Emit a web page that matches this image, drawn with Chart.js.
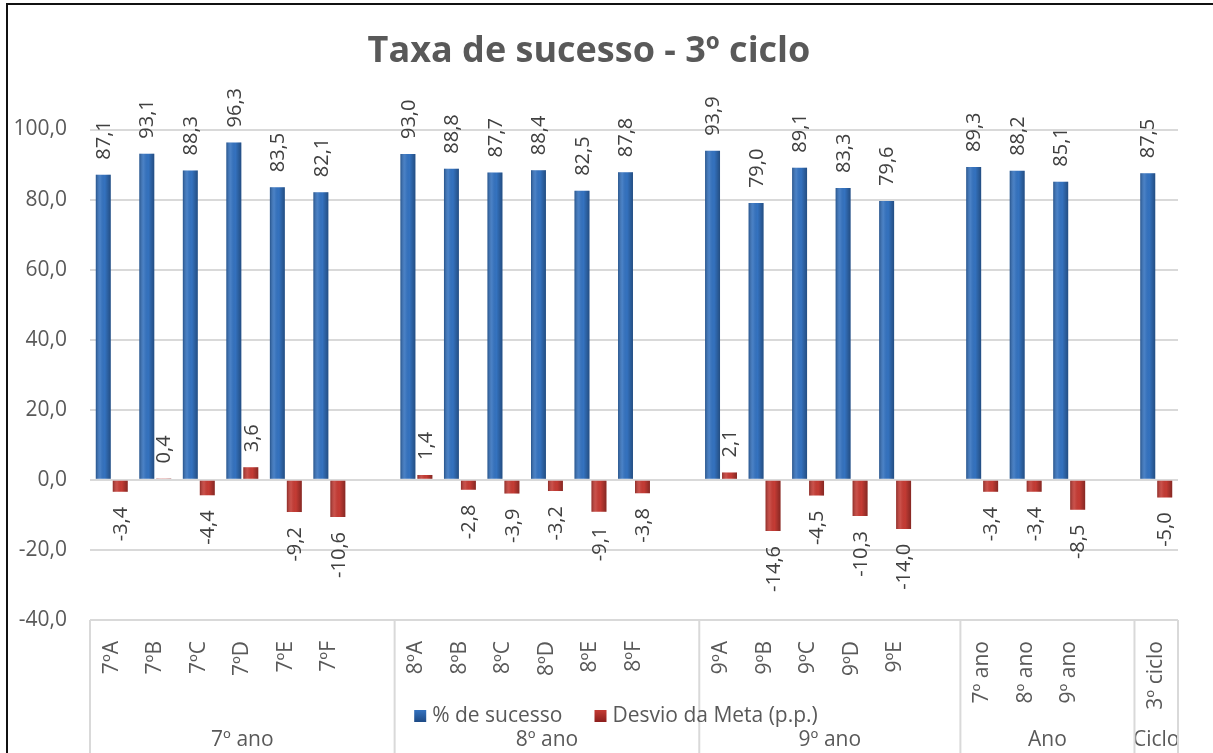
<!DOCTYPE html>
<html lang="pt">
<head>
<meta charset="utf-8">
<title>Taxa de sucesso - 3º ciclo</title>
<script src="https://cdn.jsdelivr.net/npm/chart.js@4.4.1/dist/chart.umd.min.js"></script>
<style>
    body { margin: 0; background: #fff; }
    #wrap { position: relative; width: 1213px; height: 753px; overflow: hidden; }
    #frame { position: absolute; left: 6px; top: 3px; width: 1220px; height: 770px;
             border-left: 2px solid #111; border-top: 2px solid #111; pointer-events: none; }
</style>
</head>
<body>
<div id="wrap">
    <canvas id="chart" width="1213" height="753"></canvas>
    <div id="frame"></div>
</div>
<script>
// --- Data (empty slots separate the groups, as in the original sheet) ---
const LABELS = [
    '7ºA', '7ºB', '7ºC', '7ºD', '7ºE', '7ºF', '',
    '8ºA', '8ºB', '8ºC', '8ºD', '8ºE', '8ºF', '',
    '9ºA', '9ºB', '9ºC', '9ºD', '9ºE', '',
    '7º ano', '8º ano', '9º ano', '',
    '3º ciclo'
];

const SUCESSO = [
    87.1, 93.1, 88.3, 96.3, 83.5, 82.1, null,
    93.0, 88.8, 87.7, 88.4, 82.5, 87.8, null,
    93.9, 79.0, 89.1, 83.3, 79.6, null,
    89.3, 88.2, 85.1, null,
    87.5
];

const DESVIO = [
    -3.4, 0.4, -4.4, 3.6, -9.2, -10.6, null,
    1.4, -2.8, -3.9, -3.2, -9.1, -3.8, null,
    2.1, -14.6, -4.5, -10.3, -14.0, null,
    -3.4, -3.4, -8.5, null,
    -5.0
];

const GROUP_LABELS = ['7º ano', '8º ano', '9º ano', 'Ano', 'Ciclo'];
const GROUP_SIZES = [7, 7, 6, 4, 1];

const SERIES_NAMES = ['% de sucesso', 'Desvio da Meta (p.p.)'];

const COLORS = {
    blue: '#3472bf',
    blueDark: '#1d4a85',
    red: '#c43b34',
    redDark: '#8c1e1c',
    text: '#595959',
    label: '#404040',
    grid: '#d9d9d9',
};

const FONT = '"Open Sans", sans-serif';

function fmt(v) {
    return Number(v).toFixed(1).replace('.', ',');
}

// --- Shading on bars to get the rounded look ---
const barShade = {
    id: 'barShade',
    afterDatasetsDraw(chart) {
        const ctx = chart.ctx;
        chart.data.datasets.forEach((ds, di) => {
            chart.getDatasetMeta(di).data.forEach((bar, i) => {
                if (ds.data[i] == null) return;
                const p = bar.getProps(['x', 'y', 'base', 'width'], true);
                const left = p.x - p.width / 2;
                const top = Math.min(p.y, p.base);
                const h = Math.abs(p.base - p.y);
                const g = ctx.createLinearGradient(left, 0, left + p.width, 0);
                g.addColorStop(0, 'rgba(0,0,0,0.28)');
                g.addColorStop(0.3, 'rgba(255,255,255,0.10)');
                g.addColorStop(0.6, 'rgba(0,0,0,0)');
                g.addColorStop(1, 'rgba(0,0,0,0.32)');
                ctx.save();
                ctx.fillStyle = g;
                ctx.fillRect(left, top, p.width, h);
                ctx.restore();
            });
        });
    }
};

// --- Rotated value labels ---
const valueLabels = {
    id: 'valueLabels',
    afterDatasetsDraw(chart) {
        const ctx = chart.ctx;
        ctx.save();
        ctx.font = '20px ' + FONT;
        ctx.fillStyle = COLORS.label;
        ctx.textBaseline = 'middle';
        chart.data.datasets.forEach((ds, di) => {
            chart.getDatasetMeta(di).data.forEach((bar, i) => {
                const v = ds.data[i];
                if (v == null) return;
                const p = bar.getProps(['x', 'y'], true);
                ctx.save();
                if (v >= 0) {
                    ctx.translate(p.x + 1, p.y - 15);
                    ctx.rotate(-Math.PI / 2);
                    ctx.textAlign = 'left';
                } else {
                    ctx.translate(p.x + 1, p.y + 15);
                    ctx.rotate(-Math.PI / 2);
                    ctx.textAlign = 'right';
                }
                ctx.fillText(fmt(v), 0, 0);
                ctx.restore();
            });
        });
        ctx.restore();
    }
};

// --- Group row of the category axis + legend ---
const groupAxis = {
    id: 'groupAxis',
    afterDraw(chart) {
        const ctx = chart.ctx;
        const x = chart.scales.x;
        const area = chart.chartArea;
        const half = (x.getPixelForValue(1) - x.getPixelForValue(0)) / 2;
        ctx.save();
        ctx.strokeStyle = COLORS.grid;
        ctx.lineWidth = 2;
        ctx.fillStyle = COLORS.text;
        ctx.font = '21px ' + FONT;
        ctx.textAlign = 'center';
        ctx.textBaseline = 'middle';

        let start = 0;
        const edges = [area.left];
        GROUP_LABELS.forEach((label, g) => {
            const end = start + GROUP_SIZES[g] - 1;
            const x0 = x.getPixelForValue(start) - half;
            const x1 = x.getPixelForValue(end) + half;
            edges.push(x1);
            ctx.fillText(label, (x0 + x1) / 2, 740);
            start = end + 1;
        });
        edges.forEach(e => {
            ctx.beginPath();
            ctx.moveTo(e, area.bottom);
            ctx.lineTo(e, chart.height);
            ctx.stroke();
        });

        // legend
        ctx.font = '21px ' + FONT;
        ctx.textAlign = 'left';
        const sw = 12, gapSw = 6, gapItem = 32;
        const widths = SERIES_NAMES.map(n => ctx.measureText(n).width);
        const total = widths.reduce((a, b) => a + b, 0) + 2 * (sw + gapSw) + gapItem;
        let lx = 616 - total / 2;
        const ly = 716;
        const swatch = [[COLORS.blue, COLORS.blueDark], [COLORS.red, COLORS.redDark]];
        SERIES_NAMES.forEach((name, i) => {
            const g = ctx.createLinearGradient(lx, ly - sw / 2, lx, ly + sw / 2);
            g.addColorStop(0, swatch[i][0]);
            g.addColorStop(1, swatch[i][1]);
            ctx.fillStyle = g;
            ctx.fillRect(lx, ly - sw / 2, sw, sw);
            ctx.fillStyle = COLORS.text;
            ctx.fillText(name, lx + sw + gapSw, ly);
            lx += sw + gapSw + widths[i] + gapItem;
        });
        ctx.restore();
    }
};

new Chart(document.getElementById('chart'), {
    type: 'bar',
    data: {
        labels: LABELS,
        datasets: [
            {
                label: SERIES_NAMES[0],
                data: SUCESSO,
                backgroundColor: COLORS.blue,
                categoryPercentage: 0.78,
                barPercentage: 0.88,
            },
            {
                label: SERIES_NAMES[1],
                data: DESVIO,
                backgroundColor: COLORS.red,
                categoryPercentage: 0.78,
                barPercentage: 0.88,
            }
        ]
    },
    options: {
        responsive: false,
        animation: false,
        layout: { padding: { top: 0, right: 35, bottom: 0, left: 0 } },
        plugins: {
            legend: { display: false },
            tooltip: { enabled: false },
            title: {
                display: true,
                text: 'Taxa de sucesso - 3º ciclo',
                color: COLORS.text,
                font: { family: FONT, size: 36, weight: 'bold', lineHeight: 1.2 },
                padding: { top: 30, bottom: 56.3 },
            }
        },
        scales: {
            x: {
                grid: { display: false },
                border: { display: false },
                ticks: {
                    autoSkip: false,
                    maxRotation: 90,
                    minRotation: 90,
                    padding: 13,
                    color: COLORS.text,
                    font: { family: FONT, size: 21 },
                },
                afterFit: scale => { scale.height = 133; }
            },
            y: {
                min: -40,
                max: 100,
                grid: { color: COLORS.grid, lineWidth: 2, drawTicks: false },
                border: { display: false },
                ticks: {
                    stepSize: 20,
                    padding: 23,
                    color: COLORS.text,
                    font: { family: FONT, size: 21 },
                    callback: v => fmt(v)
                },
                afterFit: scale => { scale.width = 90; }
            }
        }
    },
    plugins: [barShade, valueLabels, groupAxis]
});
</script>
</body>
</html>
